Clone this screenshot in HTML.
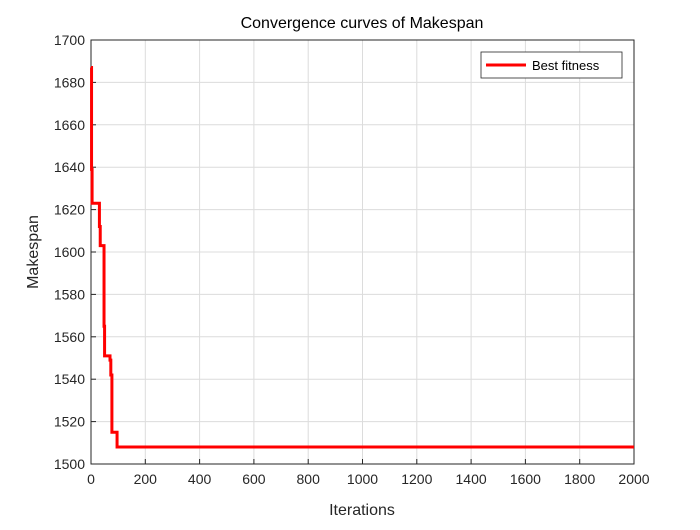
<!DOCTYPE html>
<html><head><meta charset="utf-8"><style>
body{margin:0;background:#fff;font-family:"Liberation Sans",sans-serif}
</style></head><body>
<svg width="700" height="525" xmlns="http://www.w3.org/2000/svg">
<rect width="700" height="525" fill="#fff"/>
<g id="grid"></g>
<g id="axes"></g>
<path id="curve" fill="none" stroke="#ff0000" stroke-width="3"/>
<text x="362" y="28" text-anchor="middle" font-size="16" fill="#000">Convergence curves of Makespan</text>
<text x="362" y="515" text-anchor="middle" font-size="16" fill="#262626">Iterations</text>
<text transform="translate(38,252) rotate(-90)" text-anchor="middle" font-size="16" fill="#262626">Makespan</text>
<g>
<rect x="481" y="52" width="141" height="26" fill="#fff" stroke="#262626" stroke-width="0.8"/>
<line x1="486" y1="65" x2="526" y2="65" stroke="#ff0000" stroke-width="3"/>
<text x="532" y="70" font-size="13" fill="#000">Best fitness</text>
</g>
</svg>
<script>
const iterations = [0, 2, 4, 31, 34, 48, 50, 70, 73, 77, 96, 2000];
const bestValues = [1687, 1639, 1623, 1612, 1603, 1565, 1551, 1549, 1542, 1515, 1508, 1508];
const xTicks = [0,200,400,600,800,1000,1200,1400,1600,1800,2000];
const yTicks = [1500,1520,1540,1560,1580,1600,1620,1640,1660,1680,1700];
const L=91,R=634,T=40,B=464;
const xs=v=>L+(v-0)/(2000-0)*(R-L);
const ys=v=>B-(v-1500)/(1700-1500)*(B-T);
const NS="http://www.w3.org/2000/svg";
const grid=document.getElementById('grid'), axes=document.getElementById('axes');
function mk(tag,attrs,parent){const e=document.createElementNS(NS,tag);for(const k in attrs)e.setAttribute(k,attrs[k]);parent.appendChild(e);return e;}
xTicks.forEach(t=>{
  const g=mk('line',{x1:xs(t),x2:xs(t),y1:T,y2:B,stroke:'#dcdcdc','stroke-width':1},grid);
  
  
  const tk=mk('line',{x1:xs(t),x2:xs(t),y1:B,y2:B-5,stroke:'#262626'},axes);
  
  
  const tx=mk('text',{x:xs(t),y:B+20,'text-anchor':'middle','font-size':14,fill:'#262626'},axes);
  tx.textContent=t;
  
  
});
yTicks.forEach(t=>{
  const g=mk('line',{x1:L,x2:R,y1:ys(t),y2:ys(t),stroke:'#dcdcdc','stroke-width':1},grid);
  
  
  const tk=mk('line',{x1:L,x2:L+5,y1:ys(t),y2:ys(t),stroke:'#262626'},axes);
  
  
  const tx=mk('text',{x:L-6,y:ys(t)+5,'text-anchor':'end','font-size':14,fill:'#262626'},axes);
  tx.textContent=t;
  
  
});
const box=mk('rect',{x:L,y:T,width:R-L,height:B-T,fill:'none',stroke:'#262626','stroke-width':1},axes);


let d='M'+xs(iterations[0])+','+ys(bestValues[0]);
for(let i=1;i<iterations.length;i++){
  d+=' L'+xs(iterations[i])+','+ys(bestValues[i-1])+' L'+xs(iterations[i])+','+ys(bestValues[i]);
}
document.getElementById('curve').setAttribute('d',d);
</script>
</body></html>
